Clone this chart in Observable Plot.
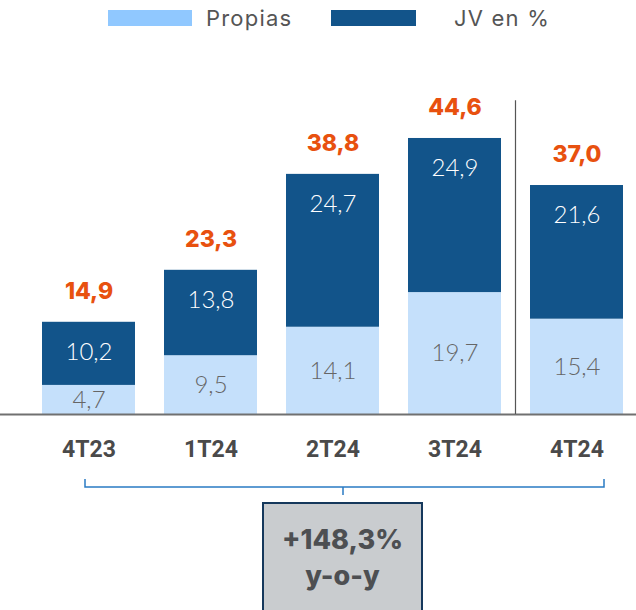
<!DOCTYPE html>
<html>
<head>
<meta charset="utf-8">
<script src="https://cdn.jsdelivr.net/npm/d3@7"></script>
<script src="https://cdn.jsdelivr.net/npm/@observablehq/plot@0.6"></script>
<style>
  html, body { margin: 0; padding: 0; background: #fff; }
  #wrap { position: relative; width: 636px; height: 610px; overflow: hidden; background: #fff; }
  .sw { position: absolute; top: 10px; height: 16px; }
  .lg { position: absolute; top: 0; line-height: 36px; font-family: Inter, "Noto Sans", sans-serif; font-size: 22px; color: #555; letter-spacing: 1.2px; }
  #chart { position: absolute; left: 0; top: 40px; }
  #bracket { position: absolute; left: 0; top: 470px; }
  #box { position: absolute; left: 262px; top: 502px; width: 157px; height: 130px; background: #c9cccf;
         border: 2.5px solid #15385c; box-sizing: content-box; text-align: center;
         font-family: Inter, "Noto Sans", sans-serif; font-weight: 800; font-size: 27px; color: #4d4f52; }
  #box div { line-height: 36px; }
</style>
</head>
<body>
<div id="wrap">
  <div class="sw" id="sw1" style="left:108px;width:84px;"></div>
  <div class="lg" id="lg1" style="left:206px;"></div>
  <div class="sw" id="sw2" style="left:331px;width:85px;"></div>
  <div class="lg" id="lg2" style="left:454px;"></div>
  <div id="chart"></div>
  <svg id="bracket" width="636" height="40"></svg>
  <div id="box"><div id="b1" style="margin-top:18px"></div><div id="b2"></div></div>
</div>
<script>
const quarters = ["4T23", "1T24", "2T24", "3T24", "4T24"];
const series = ["Propias", "JV en %"];
const propias = [4.7, 9.5, 14.1, 19.7, 15.4];
const jv = [10.2, 13.8, 24.7, 24.9, 21.6];
const totals = [14.9, 23.3, 38.8, 44.6, 37.0];
const growthText = ["+148,3%", "y-o-y"];

const lightBar = "#c5e0fb", lightSwatch = "#90c8ff", dark = "#12548a", orange = "#e8510f";
const fmt = v => d3.format(".1f")(v).replace(".", ",");
const thinFont = "'Lato Light', 'Lato Hairline', Lato, sans-serif";

document.getElementById("sw1").style.background = lightSwatch;
document.getElementById("sw2").style.background = dark;
document.getElementById("lg1").textContent = series[0];
document.getElementById("lg2").textContent = series[1];
document.getElementById("b1").textContent = growthText[0];
document.getElementById("b2").textContent = growthText[1];

const rows = quarters.flatMap((q, i) => [
  {q, serie: series[0], v: propias[i]},
  {q, serie: series[1], v: jv[i]}
]);
const propRows = quarters.map((q, i) => ({q, v: propias[i]}));
const totRows = quarters.map((q, i) => ({q, t: totals[i], jv: jv[i]}));

const plot = Plot.plot({
  width: 636,
  height: 460,
  marginTop: 20,
  marginBottom: 86,
  marginLeft: 29,
  marginRight: 1,
  style: {fontFamily: "Lato, sans-serif", color: "#4a4a4a", background: "transparent"},
  x: {domain: quarters, paddingInner: 0.24, paddingOuter: 0.1, label: null},
  y: {domain: [0, 57.2], axis: null},
  color: {domain: series, range: [lightBar, dark]},
  marks: [
    Plot.barY(rows, {x: "q", y: "v", fill: "serie", z: "serie"}),
    Plot.ruleY([0], {stroke: "#707070", strokeWidth: 2, insetLeft: -29, insetRight: -1}),
    Plot.ruleX(["4T24"], {x: d => d, y1: 0, y2: 50.7, dx: -61.5, stroke: "#555", strokeWidth: 1.2}),
    Plot.text(propRows, Plot.stackY({x: "q", y: "v", text: d => fmt(d.v), fill: "#666",
      fontSize: 24, fontWeight: 300, fontFamily: thinFont})),
    Plot.text(totRows, {x: "q", y: "t", text: d => fmt(d.jv), dy: 30, fill: "#fff",
      fontSize: 24, fontWeight: 300, fontFamily: thinFont}),
    Plot.text(totRows, {x: "q", y: "t", text: d => fmt(d.t), dy: -31, fill: orange,
      fontSize: 23, fontWeight: 800, fontFamily: "Inter, sans-serif"}),
    Plot.axisX({tickSize: 0, tickPadding: 26, fontSize: 23, fontWeight: 700,
      fontFamily: "Roboto, sans-serif", label: null})
  ]
});
document.getElementById("chart").appendChild(plot);

// bracket below the axis
const br = d3.select("#bracket");
br.append("path")
  .attr("d", "M85,9V17H604V9M343,17V25")
  .attr("fill", "none").attr("stroke", "#2a7bc4").attr("stroke-width", 1.5);
</script>
</body>
</html>
